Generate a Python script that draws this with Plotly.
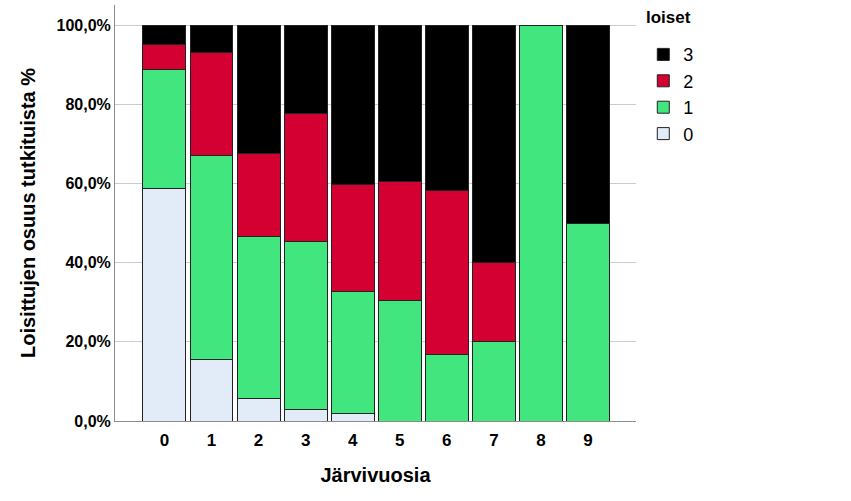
import plotly.graph_objects as go

categories = ["0", "1", "2", "3", "4", "5", "6", "7", "8", "9"]
loiset_0 = [58.8, 15.6, 5.6, 3.0, 1.9, 0, 0, 0, 0, 0]
loiset_1 = [30.0, 51.4, 41.1, 42.3, 30.8, 30.4, 16.7, 20.0, 100.0, 50.0]
loiset_2 = [6.2, 26.0, 20.8, 32.3, 27.1, 30.1, 41.5, 20.0, 0, 0]
loiset_3 = [5.0, 7.0, 32.5, 22.4, 40.2, 39.5, 41.8, 60.0, 0, 50.0]
y_tick_vals = [0, 20, 40, 60, 80, 100]
y_tick_text = ["0,0%", "20,0%", "40,0%", "60,0%", "80,0%", "100,0%"]

series = [
    ("0", loiset_0, "#E1ECF8", 4),
    ("1", loiset_1, "#41E67E", 3),
    ("2", loiset_2, "#D50032", 2),
    ("3", loiset_3, "#000000", 1),
]

FONT = "Liberation Sans, Arial, sans-serif"

fig = go.Figure()
for name, vals, col, rank in series:
    fig.add_trace(go.Bar(
        x=categories, y=vals, name=name, legendgroup=name, legendrank=rank,
        marker=dict(color=col, line=dict(color="#222222", width=1)),
    ))

fig.update_layout(
    barmode="stack",
    bargap=0.087,
    width=851, height=501,
    margin=dict(l=115, r=215, t=5, b=80, autoexpand=False),
    plot_bgcolor="white", paper_bgcolor="white",
    font=dict(family=FONT, color="black"),
    legend=dict(
        x=1.014, xanchor="left", y=0.925, yanchor="top",
        traceorder="grouped", tracegroupgap=0,
        font=dict(size=18), itemwidth=30,
    ),
    annotations=[dict(
        text="loiset", x=1.016, xref="paper", xanchor="left",
        y=0.969, yref="paper", yanchor="middle", showarrow=False,
        font=dict(size=17, weight="bold"),
    )],
    xaxis=dict(
        type="category", range=[-1.05, 10.02], automargin=False,
        showline=True, linecolor="#8c8c8c", linewidth=1,
        tickfont=dict(size=17, weight="bold"), ticks="", ticklabelstandoff=4,
        title=dict(text="Järvivuosia", font=dict(size=20, weight="bold"), standoff=18),
    ),
    yaxis=dict(
        range=[0, 105.05], tickvals=y_tick_vals, ticktext=y_tick_text, automargin=False,
        showgrid=True, gridcolor="#cccccc", gridwidth=1,
        showline=True, linecolor="#8c8c8c", linewidth=1, zeroline=False,
        tickfont=dict(size=16, weight="bold"), ticks="",
        title=dict(text="Loisittujen osuus tutkituista %", font=dict(size=20, weight="bold"), standoff=15),
    ),
)

fig.write_html(
    "out.html",
    config={"displayModeBar": False},
    post_script="document.body.style.margin='0';document.body.style.overflow='hidden';window.dispatchEvent(new Event('resize'));",
)
